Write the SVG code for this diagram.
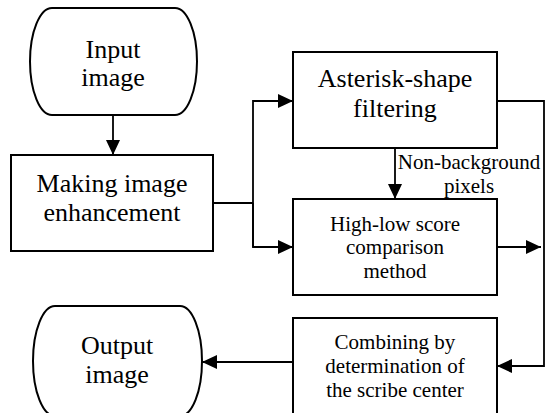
<svg xmlns="http://www.w3.org/2000/svg" width="547" height="413" viewBox="0 0 547 413">
  <style>
    .shape { fill: #ffffff; stroke: #000000; stroke-width: 2; }
    .wire { fill: none; stroke: #000000; stroke-width: 1.8; }
  </style>
  <defs>
    <marker id="arrow" markerUnits="userSpaceOnUse" markerWidth="15" markerHeight="14" refX="15" refY="7" orient="auto">
      <path d="M0,0 L15,7 L0,14 z" fill="#000000"/>
    </marker>
  </defs>

  <rect width="547" height="413" fill="#ffffff"/>

  <!-- connectors -->
  <g id="connectors">
    <path class="wire" d="M113,115 V155" marker-end="url(#arrow)"/>
    <path class="wire" d="M213,203 H253"/>
    <path class="wire" d="M253,247 V101 H293" marker-end="url(#arrow)"/>
    <path class="wire" d="M253,203 V247 H293" marker-end="url(#arrow)"/>
    <path class="wire" d="M395,148 V199" marker-end="url(#arrow)"/>
    <path class="wire" d="M497,101 H544 V366 H497" marker-end="url(#arrow)"/>
    <path class="wire" d="M497,247 H541" marker-end="url(#arrow)"/>
    <path class="wire" d="M293,362 H202" marker-end="url(#arrow)"/>
    <text x="469" y="169" font-family="Liberation Serif" font-size="21" text-anchor="middle">Non-background</text>
    <text x="469" y="193" font-family="Liberation Serif" font-size="21" text-anchor="middle">pixels</text>
  </g>

  <!-- start terminator -->
  <g id="input-image">
    <path class="shape" d="M52,8 H175 A22,53.5 0 0 1 175,115 H52 A22,53.5 0 0 1 52,8 Z"/>
    <text x="113" y="58" font-family="Liberation Serif" font-size="26" text-anchor="middle">Input</text>
    <text x="113" y="86" font-family="Liberation Serif" font-size="26" text-anchor="middle">image</text>
  </g>

  <g id="enhancement">
    <rect class="shape" x="11" y="155" width="202" height="96"/>
    <text x="112" y="192" font-family="Liberation Serif" font-size="26" text-anchor="middle">Making image</text>
    <text x="112" y="221" font-family="Liberation Serif" font-size="26" text-anchor="middle">enhancement</text>
  </g>

  <g id="asterisk-filter">
    <rect class="shape" x="293" y="52" width="204" height="96"/>
    <text x="395" y="87" font-family="Liberation Serif" font-size="26" text-anchor="middle">Asterisk-shape</text>
    <text x="395" y="117" font-family="Liberation Serif" font-size="26" text-anchor="middle">filtering</text>
  </g>

  <g id="high-low">
    <rect class="shape" x="293" y="199" width="204" height="96"/>
    <text x="395" y="231" font-family="Liberation Serif" font-size="21" text-anchor="middle">High-low score</text>
    <text x="395" y="254" font-family="Liberation Serif" font-size="21" text-anchor="middle">comparison</text>
    <text x="395" y="278" font-family="Liberation Serif" font-size="21" text-anchor="middle">method</text>
  </g>

  <g id="combining">
    <rect class="shape" x="293" y="318" width="204" height="104"/>
    <text x="395" y="349" font-family="Liberation Serif" font-size="21" text-anchor="middle">Combining by</text>
    <text x="395" y="373" font-family="Liberation Serif" font-size="21" text-anchor="middle">determination of</text>
    <text x="395" y="397" font-family="Liberation Serif" font-size="21" text-anchor="middle">the scribe center</text>
  </g>

  <!-- end terminator -->
  <g id="output-image">
    <path class="shape" d="M55,306 H180 A22,55 0 0 1 180,416 H55 A22,55 0 0 1 55,306 Z"/>
    <text x="117" y="354" font-family="Liberation Serif" font-size="26" text-anchor="middle">Output</text>
    <text x="117" y="383" font-family="Liberation Serif" font-size="26" text-anchor="middle">image</text>
  </g>
</svg>
